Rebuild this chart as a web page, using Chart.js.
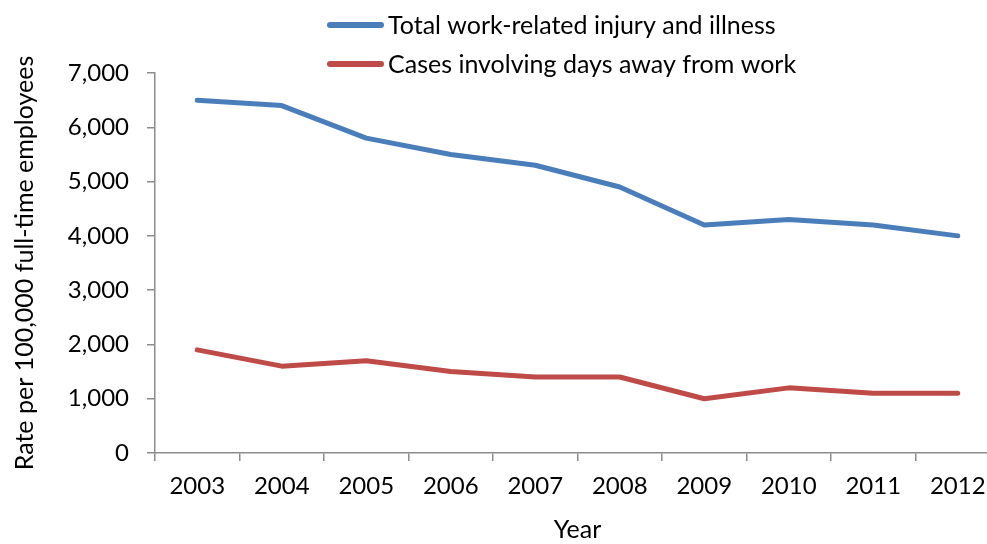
<!DOCTYPE html>
<html>
<head>
<meta charset="utf-8">
<script src="https://cdn.jsdelivr.net/npm/chart.js@4.4.0/dist/chart.umd.min.js"></script>
<style>
  html, body { margin: 0; padding: 0; background: #fff; overflow: hidden; }
  #wrap { width: 1000px; height: 544px; }
</style>
</head>
<body>
<div id="wrap"><canvas id="chart" width="1000" height="544"></canvas></div>
<script>
const years = ["2003", "2004", "2005", "2006", "2007", "2008", "2009", "2010", "2011", "2012"];
const totalCases = [6500, 6400, 5800, 5500, 5300, 4900, 4200, 4300, 4200, 4000];
const daysAwayCases = [1900, 1600, 1700, 1500, 1400, 1400, 1000, 1200, 1100, 1100];
const seriesNames = ["Total work-related injury and illness", "Cases involving days away from work"];
const seriesColors = ["#4a7ebb", "#be4b48"];

const fontFamily = "Lato, 'Open Sans', sans-serif";
const axisGray = "#8c8c8c";

// legend stacked in the upper middle, drawn over the plot like the original
const stackedLegend = {
  id: "stackedLegend",
  afterDraw(chart) {
    const ctx = chart.ctx;
    ctx.save();
    ctx.font = "25px " + fontFamily;
    ctx.textBaseline = "middle";
    ctx.fillStyle = "#000";
    chart.data.datasets.forEach((ds, i) => {
      const y = 25 + i * 39;
      ctx.strokeStyle = ds.borderColor;
      ctx.lineWidth = 6;
      ctx.lineCap = "round";
      ctx.beginPath();
      ctx.moveTo(330, y);
      ctx.lineTo(381, y);
      ctx.stroke();
      ctx.fillText(ds.label, 388, y + 1);
    });
    ctx.restore();
  }
};

new Chart(document.getElementById("chart").getContext("2d"), {
  type: "line",
  data: {
    labels: years,
    datasets: [
      {
        label: seriesNames[0],
        data: totalCases,
        borderColor: seriesColors[0],
        backgroundColor: seriesColors[0],
        borderWidth: 5,
        pointRadius: 0,
        tension: 0,
        borderCapStyle: "round",
        borderJoinStyle: "round"
      },
      {
        label: seriesNames[1],
        data: daysAwayCases,
        borderColor: seriesColors[1],
        backgroundColor: seriesColors[1],
        borderWidth: 5,
        pointRadius: 0,
        tension: 0,
        borderCapStyle: "round",
        borderJoinStyle: "round"
      }
    ]
  },
  options: {
    responsive: false,
    animation: false,
    layout: { padding: { top: 73, left: 0, right: 0, bottom: 0 } },
    plugins: {
      legend: { display: false },
      tooltip: { enabled: false }
    },
    scales: {
      x: {
        offset: true,
        border: { color: axisGray, width: 1.5 },
        grid: {
          offset: true,
          drawOnChartArea: false,
          color: axisGray,
          lineWidth: 1.5,
          tickLength: 8
        },
        ticks: { color: "#000", font: { family: fontFamily, size: 24 }, padding: 11, maxRotation: 0 },
        title: {
          display: true,
          text: "Year",
          color: "#000",
          font: { family: fontFamily, size: 25 },
          padding: { top: 0, bottom: -1 }
        },
        afterFit(scale) { scale.height = 91; }
      },
      y: {
        min: 0,
        max: 7000,
        border: { color: axisGray, width: 1.5 },
        grid: {
          drawOnChartArea: false,
          color: axisGray,
          lineWidth: 1.5,
          tickLength: 8
        },
        ticks: { stepSize: 1000, color: "#000", font: { family: fontFamily, size: 24 }, padding: 18 },
        title: {
          display: true,
          text: "Rate per 100,000 full-time employees",
          color: "#000",
          font: { family: fontFamily, size: 25 },
          padding: { top: 10, bottom: 0 }
        },
        afterFit(scale) { scale.width = 155; }
      }
    }
  },
  plugins: [stackedLegend]
});
</script>
</body>
</html>
